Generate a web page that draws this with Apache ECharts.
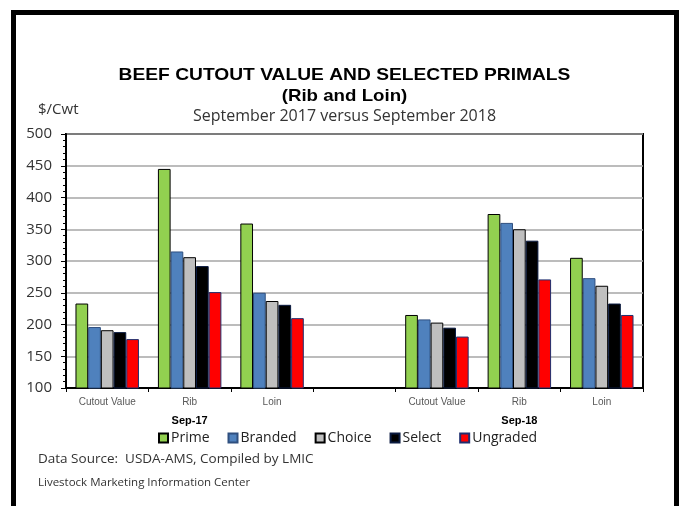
<!DOCTYPE html>
<html>
<head>
<meta charset="utf-8">
<script src="https://cdn.jsdelivr.net/npm/echarts@6/dist/echarts.min.js"></script>
<style>
  html, body { margin: 0; padding: 0; background: #fff; }
  #chart { width: 680px; height: 506px; }
</style>
</head>
<body>
<div id="chart"></div>
<script>
// categories along the x axis (empty slot separates the two months)
const categories = ['Cutout Value', 'Rib', 'Loin', '', 'Cutout Value', 'Rib', 'Loin']
// month labels, shown under the middle category of each group
const periodLabels = { 1: 'Sep-17', 5: 'Sep-18' }

const gradeNames = ['Prime', 'Branded', 'Choice', 'Select', 'Ungraded']

// $/cwt values
const prime = [233, 445, 359, null, 215, 374, 305]
const branded = [196, 315, 250, null, 208, 360, 273]
const choice = [191, 306, 237, null, 203, 350, 261]
const select = [188, 292, 231, null, 195, 332, 233]
const ungraded = [177, 251, 210, null, 181, 271, 215]

const yTicks = { min: 100, max: 500, interval: 50 }

const seriesValues = [prime, branded, choice, select, ungraded]
const colors = ['#92D050', '#4F81BD', '#BFBFBF', '#000000', '#FF0000']
const borders = ['#000000', '#2F4F7F', '#000000', '#0A1A40', '#1F2F6F']

const myChart = echarts.init(document.getElementById('chart'))

const series = gradeNames.map((name, i) => ({
  name,
  type: 'bar',
  data: seriesValues[i],
  barGap: '0%',
  barCategoryGap: '23%',
  itemStyle: {
    color: colors[i],
    borderColor: borders[i],
    borderWidth: 1
  }
}))

const option = {
  animation: false,
  grid: {
    left: 66,
    right: 37,
    top: 134,
    bottom: 118,
    show: true,
    borderColor: '#000',
    borderWidth: 2,
    backgroundColor: 'transparent'
  },
  legend: {
    data: gradeNames,
    left: 153,
    top: 426,
    icon: 'rect',
    itemWidth: 9,
    itemHeight: 9,
    itemGap: 18,
    textStyle: {
      fontFamily: 'Open Sans',
      fontSize: 14,
      color: '#222',
      padding: [0, 0, 0, -2]
    }
  },
  xAxis: {
    type: 'category',
    data: categories,
    axisLine: { lineStyle: { color: '#000', width: 2 } },
    axisTick: { show: true, length: 4, lineStyle: { color: '#000' } },
    axisLabel: {
      interval: 0,
      margin: 8,
      fontFamily: 'Liberation Sans',
      fontSize: 10,
      color: '#595959',
      lineHeight: 12,
      formatter: (value, idx) =>
        periodLabels[idx] ? value + '\n{p|' + periodLabels[idx] + '}' : value,
      rich: {
        p: {
          fontFamily: 'Liberation Sans',
          fontWeight: 'bold',
          fontSize: 11,
          color: '#000',
          lineHeight: 26
        }
      }
    }
  },
  yAxis: {
    type: 'value',
    min: yTicks.min,
    max: yTicks.max,
    interval: yTicks.interval,
    axisLine: { show: true, lineStyle: { color: '#000', width: 2 } },
    axisTick: { show: true, length: 5, lineStyle: { color: '#000' } },
    minorTick: { show: true, splitNumber: 5, length: 3, lineStyle: { color: '#000' } },
    splitLine: { show: true, lineStyle: { color: '#A6A6A6', width: 1.5 } },
    axisLabel: {
      margin: 14,
      fontFamily: 'Open Sans',
      fontSize: 15,
      color: '#333'
    }
  },
  graphic: [
    // outer frame
    {
      type: 'rect',
      shape: { x: 13.5, y: 12.5, width: 663, height: 600 },
      style: { fill: 'none', stroke: '#000', lineWidth: 5 },
      silent: true
    },
    {
      type: 'text',
      x: 344.5,
      y: 75,
      scaleX: 1.13,
      style: {
        text: 'BEEF CUTOUT VALUE AND SELECTED PRIMALS',
        fontFamily: 'Liberation Sans',
        fontWeight: 'bold',
        fontSize: 17,
        fill: '#000',
        align: 'center',
        verticalAlign: 'middle'
      }
    },
    {
      type: 'text',
      x: 344.5,
      y: 96,
      scaleX: 1.1,
      style: {
        text: '(Rib and Loin)',
        fontFamily: 'Liberation Sans',
        fontWeight: 'bold',
        fontSize: 17,
        fill: '#000',
        align: 'center',
        verticalAlign: 'middle'
      }
    },
    {
      type: 'text',
      x: 344.5,
      y: 116,
      style: {
        text: 'September 2017 versus September 2018',
        fontFamily: 'Open Sans',
        fontSize: 16,
        fill: '#333',
        align: 'center',
        verticalAlign: 'middle'
      }
    },
    {
      type: 'text',
      x: 38,
      y: 110,
      style: {
        text: '$/Cwt',
        fontFamily: 'Open Sans',
        fontSize: 15,
        fill: '#333',
        align: 'left',
        verticalAlign: 'middle'
      }
    },
    {
      type: 'text',
      x: 38,
      y: 459,
      style: {
        text: 'Data Source:  USDA-AMS, Compiled by LMIC',
        fontFamily: 'Open Sans',
        fontSize: 13.5,
        fill: '#333',
        align: 'left',
        verticalAlign: 'middle'
      }
    },
    {
      type: 'text',
      x: 38,
      y: 483,
      style: {
        text: 'Livestock Marketing Information Center',
        fontFamily: 'Open Sans',
        fontSize: 11.5,
        fill: '#333',
        align: 'left',
        verticalAlign: 'middle'
      }
    }
  ],
  series
}

myChart.setOption(option)
</script>
</body>
</html>
